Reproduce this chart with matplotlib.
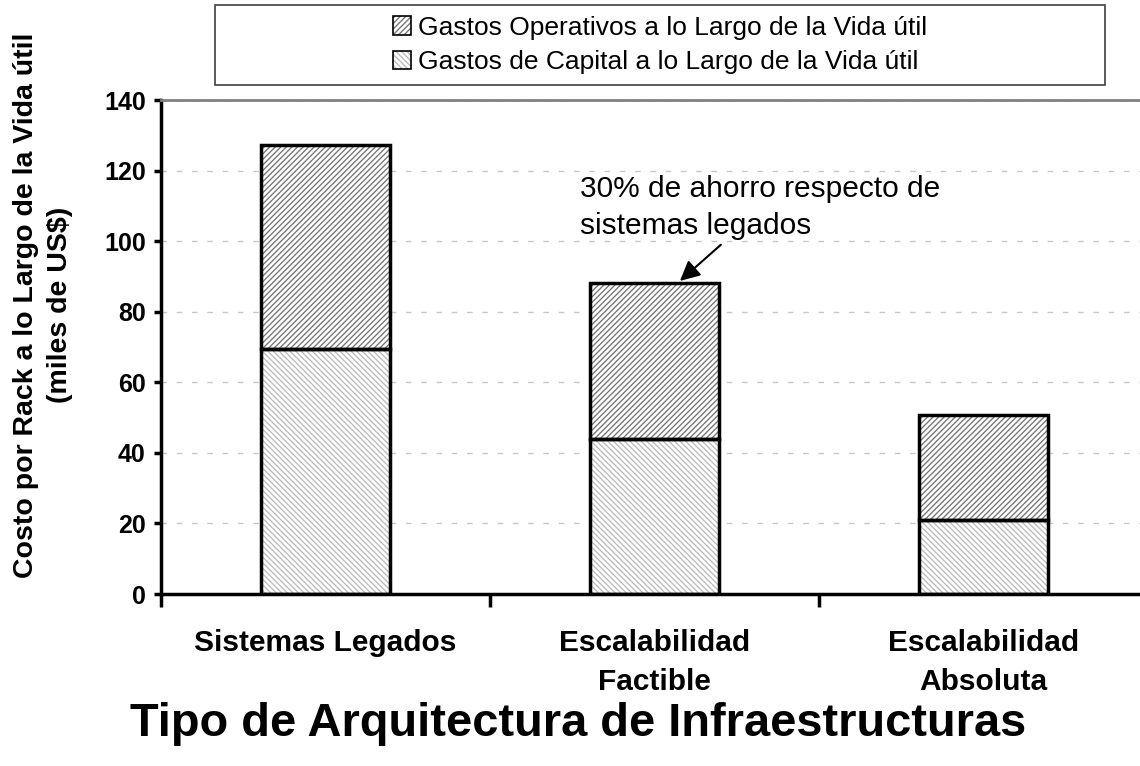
import matplotlib.pyplot as plt
from matplotlib.patches import Rectangle
import numpy as np

plt.rcParams['font.family'] = ['Liberation Sans', 'DejaVu Sans']
plt.rcParams['hatch.linewidth'] = 1.0

# data (miles de US$)
categories = ["Sistemas Legados", "Escalabilidad\nFactible", "Escalabilidad\nAbsoluta"]
capex = [69.4, 43.9, 21.0]
opex = [57.8, 44.3, 29.7]
capex_label = "Gastos de Capital a lo Largo de la Vida útil"
opex_label = "Gastos Operativos a lo Largo de la Vida útil"
y_ticks = [0, 20, 40, 60, 80, 100, 120, 140]

x = np.arange(len(categories))
width = 0.395
op_hatch, op_col = "//////", "#7a7a7a"
cap_hatch, cap_col = "\\\\\\\\\\\\", "#bdbdbd"

fig = plt.figure(figsize=(11.4, 7.66), dpi=100)
ax = fig.add_axes([161 / 1140, 172 / 766, 987 / 1140, 494 / 766])

# hatched fills, then black outlines on top
ax.bar(x, capex, width, color="white", edgecolor=cap_col, hatch=cap_hatch, linewidth=0, zorder=2)
ax.bar(x, opex, width, bottom=capex, color="white", edgecolor=op_col, hatch=op_hatch, linewidth=0, zorder=2)
ax.bar(x, capex, width, fill=False, edgecolor="black", linewidth=2.5, zorder=3)
ax.bar(x, opex, width, bottom=capex, fill=False, edgecolor="black", linewidth=2.5, zorder=3)

ax.set_xlim(-0.5, 2.5)
ax.set_ylim(0, 140)
ax.set_yticks(y_ticks)
ax.set_yticklabels([str(v) for v in y_ticks], fontsize=18, fontweight="bold")
ax.set_xticks(x)
ax.set_xticklabels(categories, fontsize=21.5, fontweight="bold", linespacing=1.5)
ax.tick_params(axis="x", length=0, pad=25)
ax.set_xticks([-0.5, 0.5, 1.5], minor=True)
ax.tick_params(axis="x", which="minor", length=9, width=2.5, direction="out")
ax.tick_params(axis="y", length=5, width=2.5, direction="out", pad=6)

ax.yaxis.grid(True, linestyle=(0, (4, 7)), color="#c8c8c8", linewidth=1, zorder=0)
ax.set_axisbelow(True)
for side in ["left", "bottom"]:
    ax.spines[side].set_linewidth(2.5)
ax.spines["top"].set_color("#808080")
ax.spines["top"].set_linewidth(2)
ax.spines["right"].set_visible(False)

fig.text(43 / 1140, 1 - 305 / 766, "Costo por Rack a lo Largo de la Vida útil\n(miles de US$)",
         fontsize=20.5, fontweight="bold", rotation=90, ha="center", va="center",
         multialignment="center", linespacing=1.4)
fig.text(578 / 1140, 1 - 724 / 766, "Tipo de Arquitectura de Infraestructuras",
         fontsize=33.8, fontweight="bold", ha="center", va="center")

ax.text(0.774, 118.8, "30% de ahorro respecto de\nsistemas legados", fontsize=21.5,
        ha="left", va="top", linespacing=1.4)
ax.annotate("", xy=(1.071, capex[1] + opex[1]), xytext=(1.208, 99.5),
            arrowprops=dict(arrowstyle="-|>", color="black", lw=1.5, mutation_scale=30))

# legend with its own wide frame
fig.patches.append(Rectangle((215 / 1140, 1 - 85 / 766), 890 / 1140, 80 / 766,
                             transform=fig.transFigure, facecolor="white",
                             edgecolor="#404040", linewidth=1.2))
h_op = (Rectangle((0, 0), 1, 1, facecolor="white", edgecolor=op_col, hatch=op_hatch, linewidth=0),
        Rectangle((0, 0), 1, 1, fill=False, edgecolor="black", linewidth=1.2))
h_cap = (Rectangle((0, 0), 1, 1, facecolor="white", edgecolor=cap_col, hatch=cap_hatch, linewidth=0),
         Rectangle((0, 0), 1, 1, fill=False, edgecolor="black", linewidth=1.2))
fig.legend([h_op, h_cap], [opex_label, capex_label], loc="center",
           bbox_to_anchor=(660 / 1140, 1 - 45 / 766), frameon=False, fontsize=19,
           handlelength=0.7, handleheight=0.7, handletextpad=0.25, labelspacing=0.4,
           borderpad=0)

fig.savefig("out.png", dpi=100)
